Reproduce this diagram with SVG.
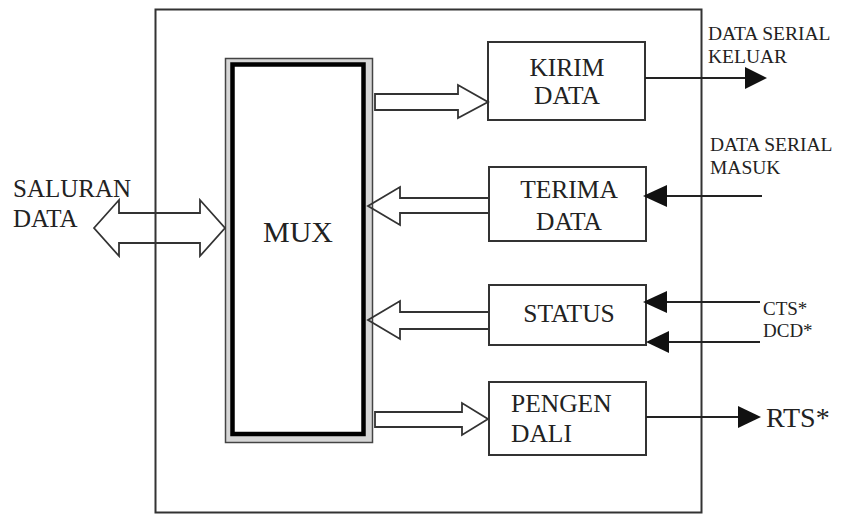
<svg xmlns="http://www.w3.org/2000/svg" width="844" height="515" viewBox="0 0 844 515">
<style>
  .t { fill: #222; }
  .box { fill: none; stroke: #333; stroke-width: 2; }
  .lbl { font-size: 25.5px; }
  .mid { text-anchor: middle; }
  .sig { font-size: 19.5px; }
  .bus { fill: none; stroke: #333; stroke-width: 1.8; stroke-linejoin: miter; }
  .wire { fill: none; stroke: #222; stroke-width: 2; }
  .head { fill: #111; stroke: none; }
</style>
<rect width="844" height="515" fill="#fff"/>

<g id="frame">
  <rect x="155.5" y="9.5" width="546" height="503" class="box"/>
</g>

<g font-family="'Liberation Serif', 'DejaVu Serif', serif">
<g id="mux">
  <rect x="225.5" y="58.5" width="147" height="384" fill="#d6d6d6" stroke="#444" stroke-width="1.5"/>
  <rect x="232.5" y="64.5" width="131" height="369.5" fill="#fff" stroke="#000" stroke-width="4.5"/>
  <text x="298" y="242" class="t mid" font-size="30">MUX</text>
</g>

<g id="kirim">
  <rect x="488" y="42" width="157" height="78" class="box"/>
  <text x="567" y="76" class="t lbl mid">KIRIM</text>
  <text x="567" y="104" class="t lbl mid">DATA</text>
</g>

<g id="terima">
  <rect x="489" y="167" width="157" height="74" class="box"/>
  <text x="569" y="198" class="t lbl mid">TERIMA</text>
  <text x="569" y="230" class="t lbl mid">DATA</text>
</g>

<g id="status">
  <rect x="489" y="285" width="157" height="60" class="box"/>
  <text x="569" y="322" class="t lbl mid">STATUS</text>
</g>

<g id="pengendali">
  <rect x="489" y="382" width="157" height="73" class="box"/>
  <text x="511" y="412" class="t lbl">PENGEN</text>
  <text x="511" y="442" class="t lbl">DALI</text>
</g>

<g id="labels">
  <text x="13" y="197" class="t" font-size="25">SALURAN</text>
  <text x="13" y="227" class="t" font-size="25">DATA</text>
  <text x="708" y="40" class="t sig">DATA SERIAL</text>
  <text x="708" y="63" class="t sig">KELUAR</text>
  <text x="710" y="151" class="t sig">DATA SERIAL</text>
  <text x="710" y="174" class="t sig">MASUK</text>
  <text x="763" y="315" class="t" font-size="19">CTS*</text>
  <text x="763" y="337" class="t" font-size="19">DCD*</text>
  <text x="766" y="427" class="t" font-size="28">RTS*</text>
</g>
</g>

<g id="connectors">
  <polygon class="bus" points="94,228 119,200 119,213 200,213 200,200 225,228 200,256 200,243 119,243 119,256"/>
  <polygon class="bus" points="375,94 458,94 458,85 488,102 458,118 458,110 375,110"/>
  <polyline class="bus" points="489,198 400,198 400,187 368,206 400,225 400,213 489,213"/>
  <polyline class="bus" points="489,312 400,312 400,301 368,320 400,339 400,329 489,329"/>
  <polygon class="bus" points="375,412 462,412 462,403 488,419 462,435 462,427 375,427"/>
  <line class="wire" x1="645" y1="78" x2="747" y2="78"/>
  <polygon class="head" points="745,67 767,78 745,89"/>
  <line class="wire" x1="762" y1="196" x2="665" y2="196"/>
  <polygon class="head" points="667,185 643,196 667,207"/>
  <line class="wire" x1="760" y1="302" x2="665" y2="302"/>
  <polygon class="head" points="667,291 643,302 667,313"/>
  <line class="wire" x1="760" y1="342" x2="667" y2="342"/>
  <polygon class="head" points="669,331 646,342 669,353"/>
  <line class="wire" x1="646" y1="417" x2="740" y2="417"/>
  <polygon class="head" points="738,406 761,417 738,428"/>
</g>
</svg>
